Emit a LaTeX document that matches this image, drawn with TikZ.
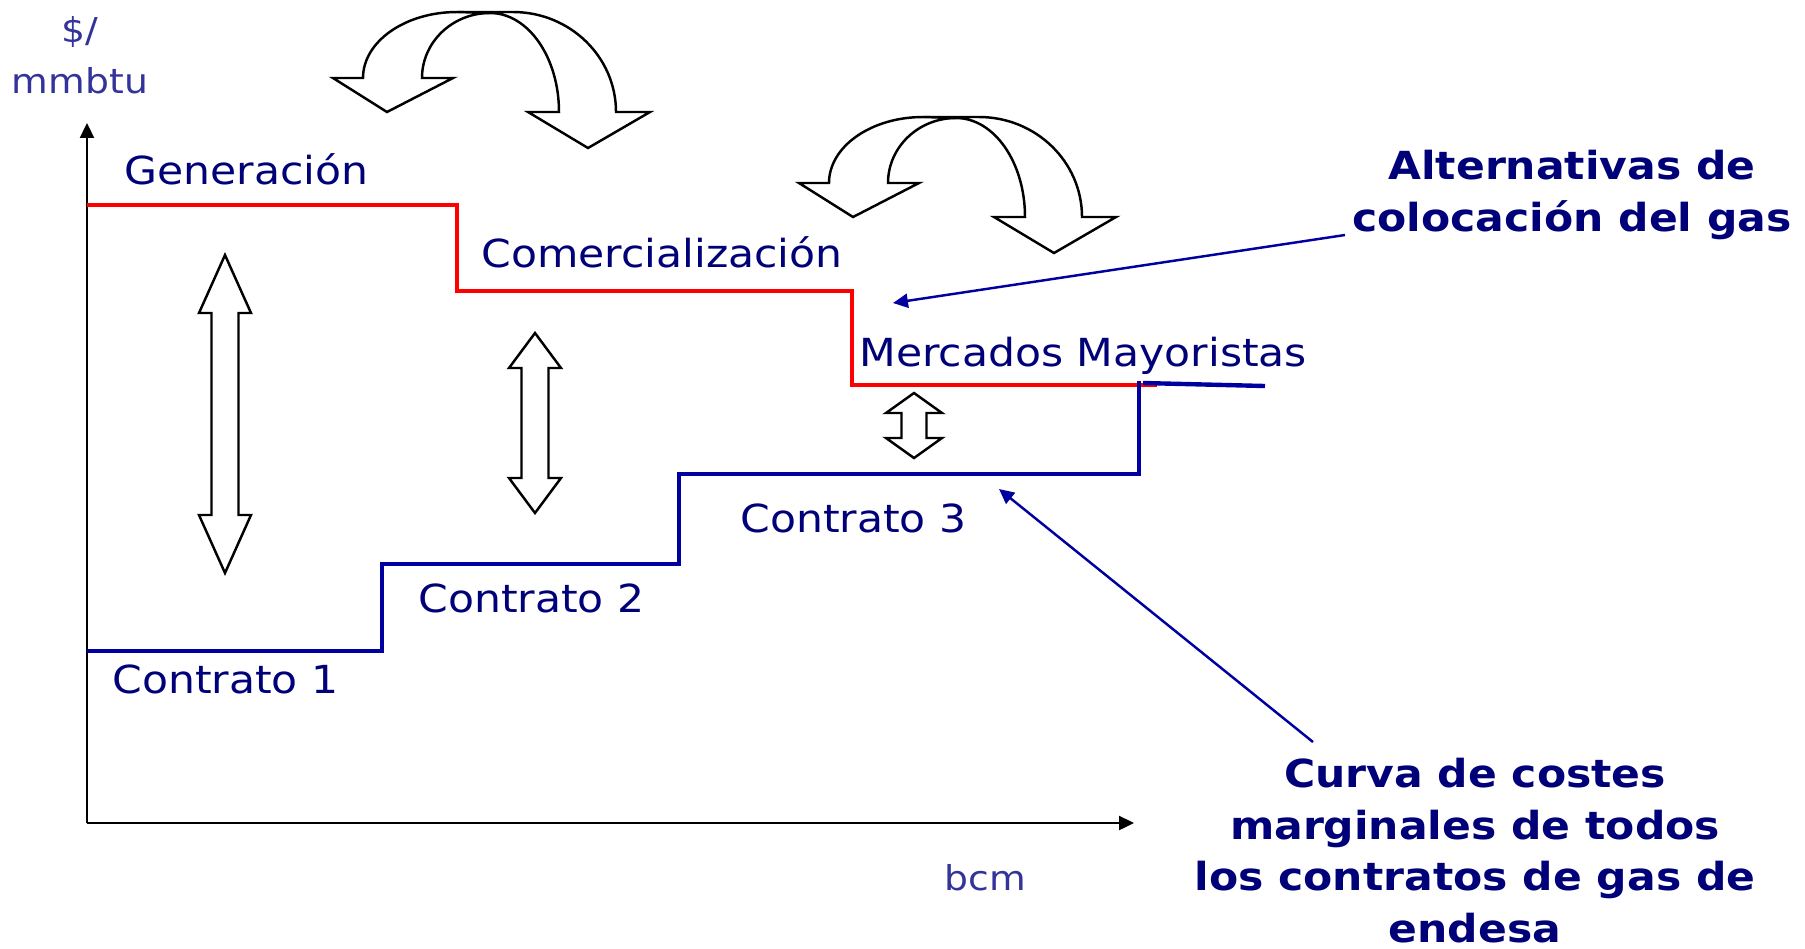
\documentclass[tikz,border=0pt]{standalone}
\usepackage{fontspec}
\setmainfont{DejaVu Sans}[FakeStretch=1.1]
\usetikzlibrary{arrows.meta}

\definecolor{navy}{RGB}{0,0,120}
\definecolor{stepblue}{RGB}{0,0,160}
\definecolor{unitblue}{RGB}{51,51,153}

% hollow up/down arrow: centre x, top tip y, bottom tip y, head length, head half width, shaft half width
\newcommand\blockarrow[6]{%
  \draw[hollow] (#1,#2) -- (#1+#5,#2+#4) -- (#1+#6,#2+#4) -- (#1+#6,#3-#4) -- (#1+#5,#3-#4)
    -- (#1,#3) -- (#1-#5,#3-#4) -- (#1-#6,#3-#4) -- (#1-#6,#2+#4) -- (#1-#5,#2+#4) -- cycle;}

\tikzset{
  hollow/.style={draw=black,fill=white,line width=1.4pt,line join=miter},
  pics/turnarrows/.style={code={
    % right hand arrow
    \draw[hollow] (0,0) -- (56,0) arc[start angle=270,end angle=360,x radius=103,y radius=100]
      -- (193,100) -- (131,136) -- (71,100) -- (102,100)
      arc[start angle=0,end angle=-90,x radius=69,y radius=99] -- cycle;
    % left hand arrow
    \draw[hollow] (33,1) -- (0,0) arc[start angle=270,end angle=180,x radius=94,y radius=66]
      -- (-124,66) -- (-70,100) -- (-4,66) -- (-35,66)
      arc[start angle=180,end angle=270,x radius=68,y radius=65] -- cycle;
  }}
}

\begin{document}
\begin{tikzpicture}[x=0.02cm,y=-0.02cm,
  lbl/.style={text=navy,font=\fontsize{22}{28}\selectfont,inner sep=0pt},
  note/.style={text=navy,font=\bfseries\fontsize{22}{29.3}\selectfont,inner sep=0pt,align=center},
  unit/.style={text=unitblue,font=\fontsize{19.5}{29}\selectfont,inner sep=0pt,align=center},
  axis/.style={line width=1.1pt,-{Triangle[length=8.5pt,width=8pt]}},
  redstep/.style={red,line width=2.3pt},
  bluestep/.style={stepblue,line width=2.5pt},
  pointer/.style={stepblue,line width=1.4pt,-{Triangle[length=8.5pt,width=8pt]}}]
\useasboundingbox (0,0) rectangle (1805,948);

% axes
\coordinate (o) at (87,823);
\coordinate (ytop) at (87,123);
\coordinate (xend) at (1134,823);
\draw[axis] (o) -- (ytop);
\draw[axis] (o) -- (xend);
\node[unit,anchor=base] (ylab) at (80,93) {\$/\\mmbtu};
\node[unit,anchor=base west] (xlab) at (944,890) {bcm};

% marketing alternatives
\draw[redstep] (87,205) -- (457,205) -- (457,291) -- (852,291) -- (852,385) -- (1157,385);
\node[lbl,anchor=base west] (gen) at (124,184) {Generación};
\node[lbl,anchor=base west] (com) at (481,267) {Comercialización};
\node[lbl,anchor=base west] (merc) at (859,366) {Mercados Mayoristas};

% gas contracts
\draw[bluestep] (87,651) -- (382,651) -- (382,564) -- (679,564) -- (679,474) -- (1139,474) -- (1139,381);
\draw[bluestep] (1143,383) -- (1265,386);
\node[lbl,anchor=base west] (c1) at (112,693) {Contrato 1};
\node[lbl,anchor=base west] (c2) at (418,612) {Contrato 2};
\node[lbl,anchor=base west] (c3) at (740,532) {Contrato 3};

% margins
\blockarrow{225}{255}{573}{58}{26}{13.5}
\blockarrow{535}{333}{513}{35}{26}{13.5}
\blockarrow{914}{393}{458}{20}{28}{12.5}

% switching between markets
\pic at (457,12) {turnarrows};
\pic at (923,117) {turnarrows};

% notes
\node[note,anchor=base] (alt) at (1572,231) {Alternativas de\\colocación del gas};
\node[note,anchor=base] (curva) at (1475,942) {Curva de costes\\marginales de todos\\los contratos de gas de\\endesa};
\coordinate (altfrom) at (1345,235);
\coordinate (altto) at (893,303);
\coordinate (curvafrom) at (1313,742);
\coordinate (curvato) at (999,489);
\draw[pointer] (altfrom) -- (altto);
\draw[pointer] (curvafrom) -- (curvato);
\end{tikzpicture}
\end{document}
